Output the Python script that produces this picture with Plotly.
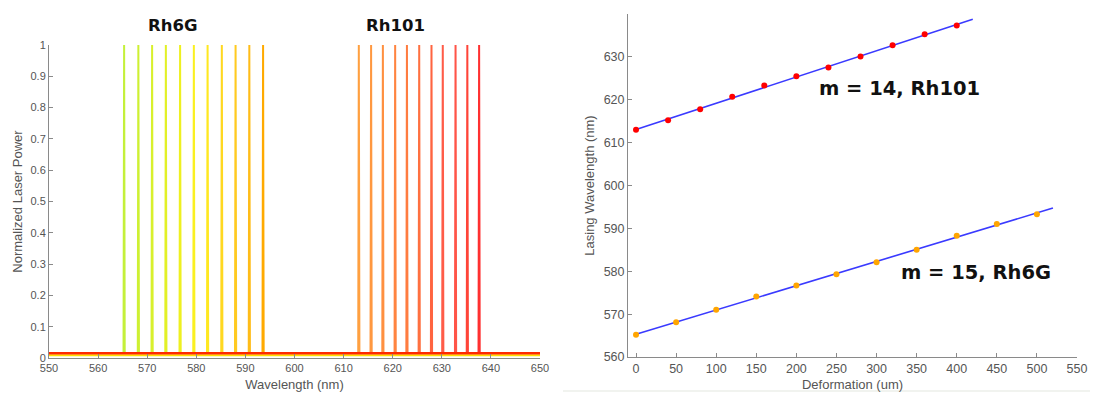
import numpy as np
import plotly.graph_objects as go

# ---- data ----
rh6g_peaks = [565.3, 568.2, 571.0, 573.8, 576.7, 579.5, 582.3, 585.2, 588.0, 590.8, 593.6]
rh101_peaks = [613.1, 615.6, 618.0, 620.5, 622.9, 625.4, 627.9, 630.2, 632.8, 635.2, 637.6]
peak_height = 1.0
baseline_level = 0.015

rh101_deform = [0, 40, 80, 120, 160, 200, 240, 280, 320, 360, 400]
rh101_wl = [613.0, 615.2, 617.8, 620.7, 623.3, 625.5, 627.5, 630.1, 632.7, 635.3, 637.3]
rh6g_deform = [0, 50, 100, 150, 200, 250, 300, 350, 400, 450, 500]
rh6g_wl = [565.2, 568.1, 571.0, 574.1, 576.7, 579.3, 582.1, 585.0, 588.3, 591.0, 593.3]
rh101_fit_range = [0, 420]
rh6g_fit_range = [0, 520]

left_yticks = [0, 0.1, 0.2, 0.3, 0.4, 0.5, 0.6, 0.7, 0.8, 0.9, 1]
left_yticklabels = ["0", "0.1", "0.2", "0.3", "0.4", "0.5", "0.6", "0.7", "0.8", "0.9", "1"]

# ---- styles ----
rh6g_colors = ["#c4f03a", "#cef032", "#d8f02c", "#e2f026", "#eef020", "#faf020",
               "#ffe820", "#ffd820", "#ffca20", "#ffbc18", "#ffaa00"]
rh101_colors = ["#ffa040", "#ff9840", "#ff9040", "#ff8440", "#ff7c40", "#ff7040",
                "#ff6440", "#ff5c48", "#ff5448", "#ff4438", "#ff3030"]
half_w = 0.12

fig = go.Figure()

# baseline (yellow underneath, red on top)
fig.add_trace(go.Scatter(x=[550, 650], y=[baseline_level * 0.6] * 2, mode="lines",
                         line=dict(color="#ffe000", width=2), xaxis="x", yaxis="y",
                         hoverinfo="skip"))
for peaks, cols in ((rh6g_peaks, rh6g_colors), (rh101_peaks, rh101_colors)):
    for p, c in zip(peaks, cols):
        fig.add_trace(go.Scatter(x=[p - half_w, p, p + half_w],
                                 y=[baseline_level, peak_height, baseline_level],
                                 mode="lines", line=dict(color=c, width=2),
                                 xaxis="x", yaxis="y"))
fig.add_trace(go.Scatter(x=[550, 650], y=[baseline_level] * 2, mode="lines",
                         line=dict(color="#ff2a00", width=2.5), xaxis="x", yaxis="y",
                         hoverinfo="skip"))

# right panel: fits and points
for dx, dy, rng, mc in ((rh101_deform, rh101_wl, rh101_fit_range, "#ff0000"),
                        (rh6g_deform, rh6g_wl, rh6g_fit_range, "#ffa500")):
    k, b = np.polyfit(dx, dy, 1)
    fx = np.array(rng, dtype=float)
    fig.add_trace(go.Scatter(x=fx, y=k * fx + b, mode="lines",
                             line=dict(color="#3a3aff", width=1.6), xaxis="x2", yaxis="y2"))
    fig.add_trace(go.Scatter(x=dx, y=dy, mode="markers",
                             marker=dict(color=mc, size=6), xaxis="x2", yaxis="y2"))

tickfont_l = dict(family="Liberation Sans, Arial", size=11, color="#555555")
tickfont_r = dict(family="Liberation Sans, Arial", size=12.5, color="#555555")
titlefont = dict(family="Liberation Sans, Arial", size=13, color="#555555")
axis_common = dict(showgrid=False, zeroline=False, showline=True, linecolor="#8a8a8a",
                   linewidth=1, ticks="inside", ticklen=4, tickcolor="#8a8a8a",
                   mirror=False, automargin=False)

# page has an 8px body margin; keep the figure inside the window (no scrollbars)
OFF = 8
W, H = 1098 - 2 * OFF, 400 - 2 * OFF


def px(x):
    return (x - OFF) / W


def py(y):
    return 1 - (y - OFF) / H


fig.update_layout(
    width=W, height=H, margin=dict(l=0, r=0, t=0, b=0),
    paper_bgcolor="white", plot_bgcolor="white", showlegend=False,
    xaxis=dict(domain=[px(49), px(540)], range=[550, 650], dtick=10,
               tickfont=tickfont_l, anchor="y",
               title=dict(text="Wavelength (nm)", font=titlefont, standoff=6),
               **axis_common),
    yaxis=dict(domain=[py(358), py(45)], range=[0, 1],
               tickvals=left_yticks, ticktext=left_yticklabels,
               tickfont=tickfont_l, anchor="x",
               title=dict(text="Normalized Laser Power", font=titlefont, standoff=4),
               **axis_common),
    xaxis2=dict(domain=[px(628), px(1077)], range=[-10, 550], dtick=50,
                tickfont=tickfont_r, anchor="y2",
                title=dict(text="Deformation (um)", font=titlefont, standoff=4),
                **axis_common),
    yaxis2=dict(domain=[py(357), py(14)], range=[560, 640], dtick=10,
                tickfont=tickfont_r, anchor="x2",
                title=dict(text="Lasing Wavelength (nm)", font=titlefont, standoff=6),
                **axis_common),
)

lblfont = dict(family="DejaVu Sans, Verdana", size=16.5, color="#111111")
bigfont = dict(family="DejaVu Sans, Verdana", size=19.5, color="#111111")
for txt, x, y, f in (("<b>Rh6G</b>", 172, 25, lblfont),
                     ("<b>Rh101</b>", 395, 25, lblfont),
                     ("<b>m = 14, Rh101</b>", 899, 88, bigfont),
                     ("<b>m = 15, Rh6G</b>", 976, 272, bigfont)):
    fig.add_annotation(text=txt, x=px(x), y=py(y), xref="paper", yref="paper",
                       xanchor="center", yanchor="middle", showarrow=False, font=f)

# light strip at bottom of right panel image
fig.add_shape(type="rect", xref="paper", yref="paper", x0=px(563), x1=1, y0=0,
              y1=2 / H, fillcolor="#f1f3ef", line=dict(width=0), layer="below")

fig.write_html("out.html")
